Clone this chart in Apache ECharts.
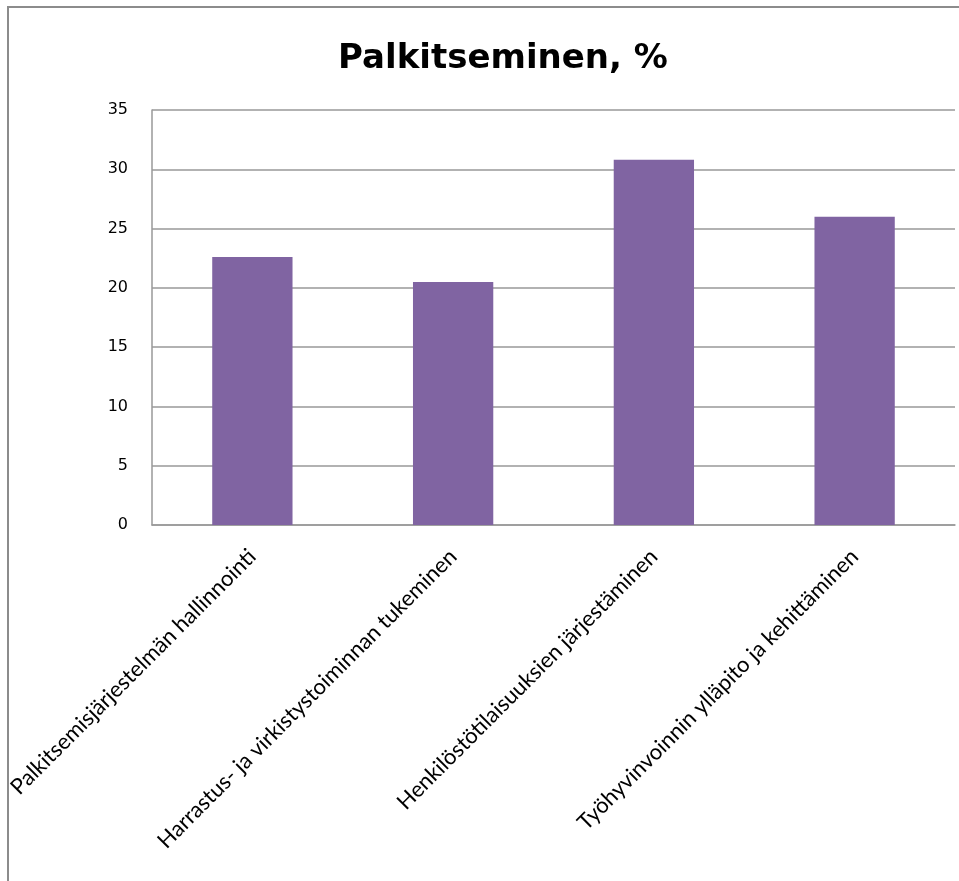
<!DOCTYPE html>
<html><head><meta charset="utf-8">
<script src="https://cdn.jsdelivr.net/npm/echarts@6/dist/echarts.min.js"></script>
<style>html,body{margin:0;padding:0;background:#fff}#c{width:959px;height:881px}</style>
</head><body><div id="c"></div>
<script>
const categories = ["Palkitsemisjärjestelmän hallinnointi","Harrastus- ja virkistystoiminnan tukeminen","Henkilöstötilaisuuksien järjestäminen","Työhyvinvoinnin ylläpito ja kehittäminen"];
const values = [22.6, 20.5, 30.8, 26.0];
const chart = echarts.init(document.getElementById('c'));
chart.setOption({
  animation:false,
  backgroundColor:'#fff',
  title:{text:'Palkitseminen, %',left:498,textAlign:'center',top:37,itemGap:0,
    textStyle:{fontFamily:'DejaVu Sans',fontWeight:'bold',fontSize:34,color:'#000'}},
  graphic:[{type:'rect',shape:{x:8,y:7,width:1000,height:1000},style:{fill:'none',stroke:'#8c8c8c',lineWidth:2},silent:true}],
  grid:{left:152,right:4,top:110,bottom:356,containLabel:false},
  xAxis:{type:'category',data:categories,
    axisLine:{lineStyle:{color:'#999',width:1.5}},axisTick:{show:false},
    axisLabel:{rotate:45,margin:28,interval:0,fontFamily:'Lato',fontSize:22,color:'#000'}},
  yAxis:{type:'value',min:0,max:35,interval:5,
    axisLine:{show:true,lineStyle:{color:'#999',width:1.5}},axisTick:{show:false},
    splitLine:{lineStyle:{color:'#999',width:1.5}},
    axisLabel:{margin:24,fontFamily:'DejaVu Sans',fontSize:16,color:'#000'}},
  series:[{type:'bar',data:values,barWidth:'40%',itemStyle:{color:'#8064A2'}}]
});
</script></body></html>
